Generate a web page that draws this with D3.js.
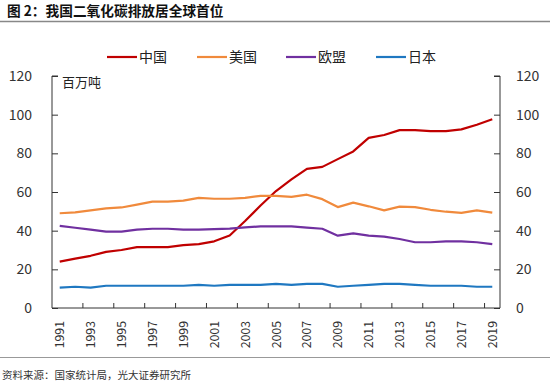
<!DOCTYPE html>
<html>
<head>
<meta charset="utf-8">
<script src="https://cdn.jsdelivr.net/npm/d3@7"></script>
<style>
body { margin: 0; background: #fff; }
text { font-family: "Noto Sans CJK SC", "Noto Sans", sans-serif; }
</style>
</head>
<body>
<script>
var years = d3.range(1991, 2020);
var china = [24, 25.5, 27, 29, 30, 31.5, 31.5, 31.5, 32.5, 33, 34.5, 37.5, 45, 53, 60.5, 66.5, 72, 73, 77, 81, 88, 89.5, 92, 92, 91.5, 91.5, 92.4, 94.8, 97.6];
var usa = [49, 49.5, 50.5, 51.5, 52, 53.5, 55, 55, 55.5, 57, 56.5, 56.5, 57, 58, 58, 57.5, 58.6, 56.3, 52.2, 54.5, 52.6, 50.5, 52.4, 52.2, 50.8, 49.8, 49.2, 50.5, 49.3];
var eu = [42.5, 41.5, 40.5, 39.5, 39.5, 40.5, 41, 41, 40.5, 40.5, 40.8, 41.1, 41.7, 42.2, 42.2, 42.2, 41.6, 41, 37.4, 38.6, 37.4, 36.9, 35.7, 34, 34, 34.5, 34.5, 34, 33];
var japan = [10.5, 11, 10.5, 11.5, 11.5, 11.5, 11.5, 11.5, 11.5, 12, 11.5, 12, 12, 12, 12.5, 12, 12.5, 12.5, 11, 11.5, 12, 12.5, 12.5, 12, 11.5, 11.5, 11.5, 11, 11];
var seriesNames = ["中国", "美国", "欧盟", "日本"];
var seriesColors = ["#C00000", "#F08A3C", "#7030A0", "#1F78C1"];
var yTicks = [0, 20, 40, 60, 80, 100, 120];

var width = 550, height = 387;
var svg = d3.select("body").append("svg")
    .attr("width", width)
    .attr("height", height);

// title and rules
svg.append("text").attr("x", 7).attr("y", 16)
    .attr("font-size", "13.7px").attr("font-weight", "bold").attr("fill", "#111")
    .text("图 2：我国二氧化碳排放居全球首位");
svg.append("line").attr("x1", 0).attr("x2", 550).attr("y1", 21.5).attr("y2", 21.5)
    .attr("stroke", "#888").attr("stroke-width", 1.5);
svg.append("line").attr("x1", 0).attr("x2", 550).attr("y1", 357.5).attr("y2", 357.5)
    .attr("stroke", "#999").attr("stroke-width", 1);
svg.append("text").attr("x", 2).attr("y", 379)
    .attr("font-size", "10.5px").attr("fill", "#333")
    .text("资料来源：国家统计局，光大证券研究所");

var pLeft = 52, pRight = 500, pTop = 76, pBottom = 308;

var xBand = d3.scaleBand().domain(years).range([pLeft, pRight]);
var x = function(yr) { return xBand(yr) + xBand.bandwidth() / 2; };
var y = d3.scaleLinear().domain([0, 120]).range([pBottom, pTop]);

// left axis
var gl = svg.append("g").attr("transform", "translate(" + pLeft + ",0)")
    .call(d3.axisRight(y).tickValues(yTicks).tickSize(6).tickFormat(""));
gl.select(".domain").attr("d", "M6," + pTop + "H0V" + pBottom);
gl.selectAll("line, path").attr("stroke", "#333");
svg.selectAll(".ylab-l").data(yTicks).enter().append("text")
    .attr("x", 32).attr("y", function(d) { return y(d) + 5; })
    .attr("text-anchor", "end").attr("font-size", "14px").attr("fill", "#333")
    .attr("font-family", "Noto Sans")
    .text(function(d) { return d; });

// right axis
var gr = svg.append("g").attr("transform", "translate(" + pRight + ",0)")
    .call(d3.axisLeft(y).tickValues(yTicks).tickSize(6).tickFormat(""));
gr.select(".domain").attr("d", "M-6," + pTop + "H0V" + pBottom);
gr.selectAll("line, path").attr("stroke", "#333");
svg.selectAll(".ylab-r").data(yTicks).enter().append("text")
    .attr("x", 516).attr("y", function(d) { return y(d) + 5; })
    .attr("font-size", "14px").attr("fill", "#333")
    .attr("font-family", "Noto Sans")
    .text(function(d) { return d; });

// x axis: ticks between categories, every 2
var tickYears = years.filter(function(d, i) { return i % 2 == 0 && i > 0; });
svg.append("line").attr("x1", pLeft).attr("x2", pRight).attr("y1", pBottom).attr("y2", pBottom)
    .attr("stroke", "#333");
svg.selectAll(".xt").data(tickYears).enter().append("line")
    .attr("x1", function(d) { return xBand(d); }).attr("x2", function(d) { return xBand(d); })
    .attr("y1", pBottom).attr("y2", pBottom - 5).attr("stroke", "#333");
svg.selectAll(".xl").data(years.filter(function(d, i) { return i % 2 == 0; })).enter().append("text")
    .attr("transform", function(d) { return "translate(" + (x(d) + 4.5) + ",321) rotate(-90)"; })
    .attr("text-anchor", "end").attr("font-size", "12.3px").attr("fill", "#333")
    .attr("font-family", "DejaVu Sans")
    .text(function(d) { return d; });

// unit
svg.append("text").attr("x", 62).attr("y", 87)
    .attr("font-size", "13px").attr("fill", "#222").text("百万吨");

// lines
var allSeries = [china, usa, eu, japan];
var line = d3.line().x(function(d, i) { return x(years[i]); }).y(function(d) { return y(d); });
allSeries.forEach(function(s, k) {
    svg.append("path").datum(s)
        .attr("d", line)
        .attr("fill", "none")
        .attr("stroke", seriesColors[k])
        .attr("stroke-width", 2.2)
        .attr("stroke-linejoin", "round");
});

// legend
var legX = [107, 197, 286, 376];
seriesNames.forEach(function(n, k) {
    svg.append("line").attr("x1", legX[k]).attr("x2", legX[k] + 30)
        .attr("y1", 57).attr("y2", 57)
        .attr("stroke", seriesColors[k]).attr("stroke-width", 2.2);
    svg.append("text").attr("x", legX[k] + 32).attr("y", 62)
        .attr("font-size", "14px").attr("fill", "#222").text(n);
});
</script>
</body>
</html>
